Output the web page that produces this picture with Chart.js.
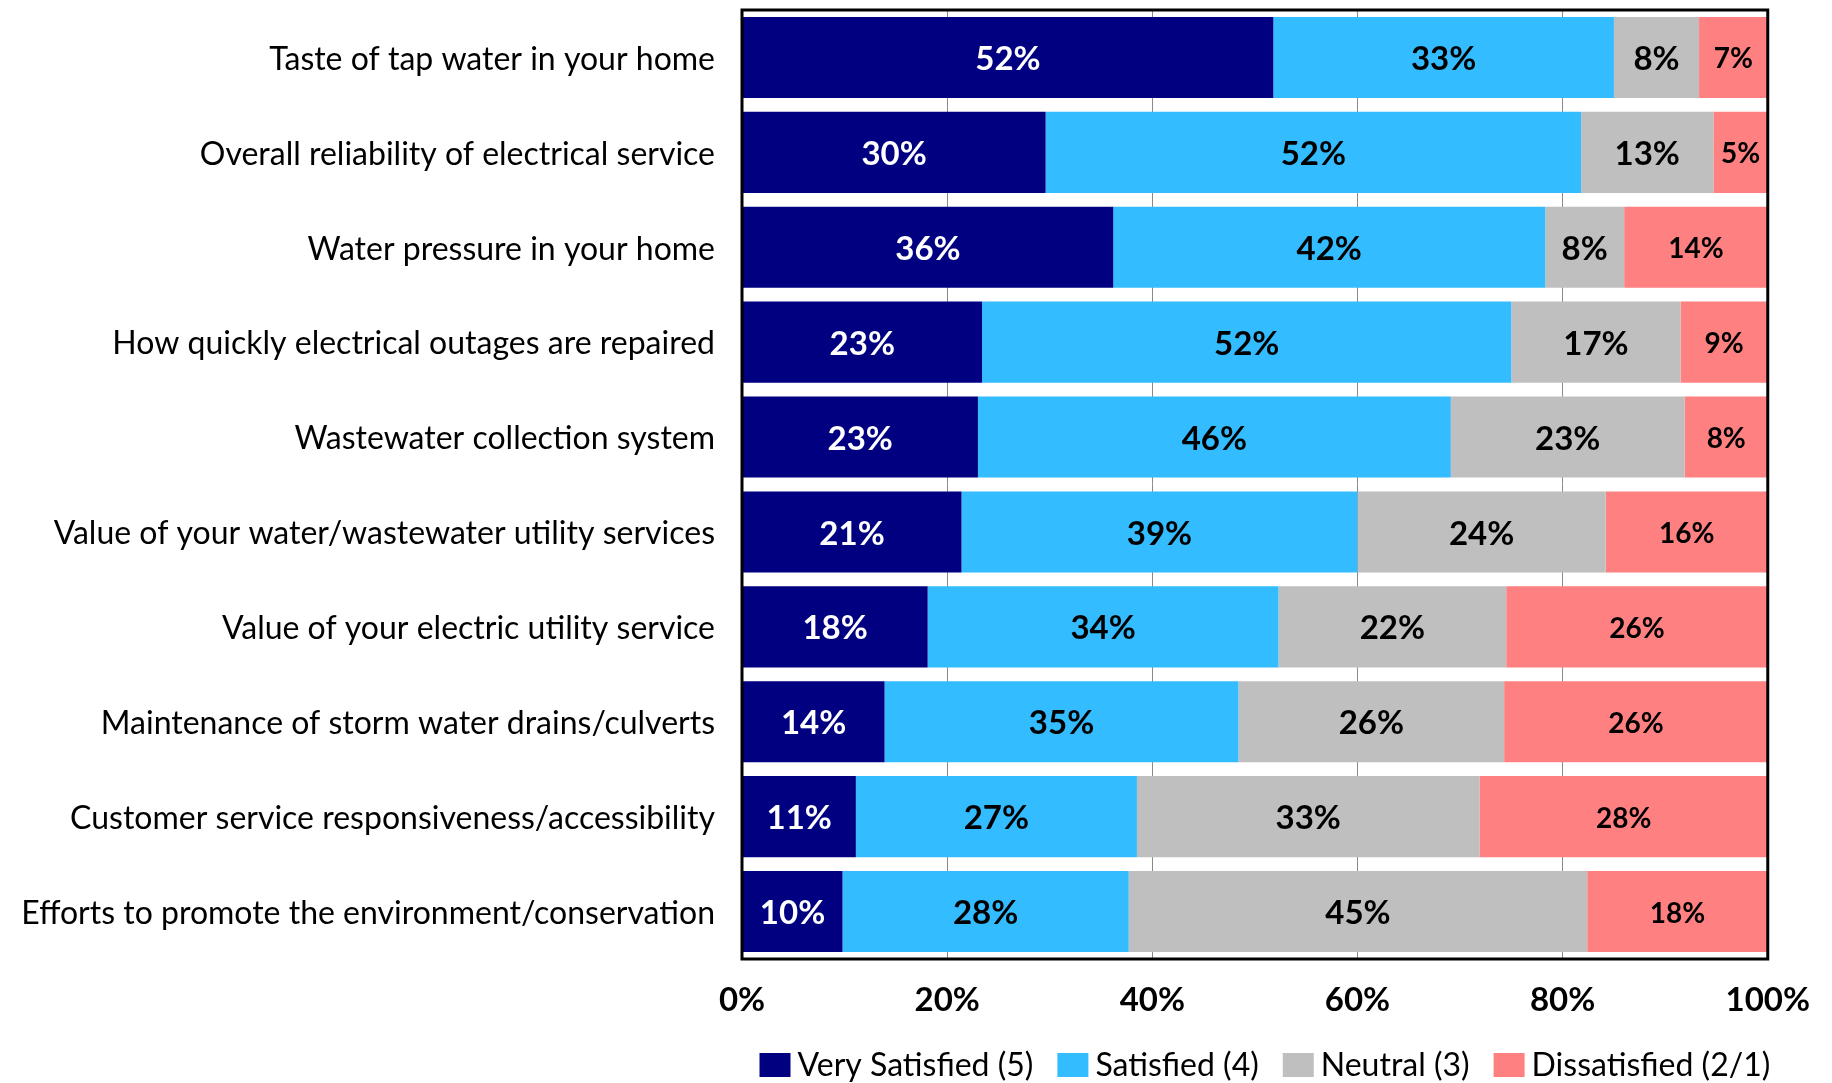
<!DOCTYPE html>
<html>
<head>
<meta charset="utf-8">
<script src="https://cdn.jsdelivr.net/npm/chart.js@4.4.0/dist/chart.umd.min.js"></script>
<style>
  html, body { margin: 0; padding: 0; background: #fff; }
  canvas { display: block; }
</style>
</head>
<body>
<canvas id="myChart" width="1832" height="1083"></canvas>
<script>
const categories = [
  "Taste of tap water in your home",
  "Overall reliability of electrical service",
  "Water pressure in your home",
  "How quickly electrical outages are repaired",
  "Wastewater collection system",
  "Value of your water/wastewater utility services",
  "Value of your electric utility service",
  "Maintenance of storm water drains/culverts",
  "Customer service responsiveness/accessibility",
  "Efforts to promote the environment/conservation",
];

const verySatisfied = [51.8, 29.6, 36.2, 23.4, 23.0, 21.4, 18.1, 13.9, 11.1, 9.8];
const satisfied = [33.2, 52.2, 42.1, 51.6, 46.1, 38.6, 34.2, 34.5, 27.4, 27.9];
const neutral = [8.3, 12.9, 7.7, 16.5, 22.8, 24.2, 22.2, 25.9, 33.4, 44.7];
const dissatisfied = [6.7, 5.3, 14.0, 8.5, 8.1, 15.8, 25.5, 25.7, 28.1, 17.6];

const seriesNames = ["Very Satisfied (5)", "Satisfied (4)", "Neutral (3)", "Dissatisfied (2/1)"];
const seriesColors = ["#000080", "#33BCFF", "#BFBFBF", "#FF8080"];
const xTicks = [0, 20, 40, 60, 80, 100];

const FONT = "Lato, 'Open Sans', sans-serif";

// value labels inside each bar segment
const barLabels = {
  id: "barLabels",
  afterDatasetsDraw(chart) {
    const ctx = chart.ctx;
    ctx.save();
    ctx.textAlign = "center";
    ctx.textBaseline = "middle";
    chart.data.datasets.forEach((ds, i) => {
      const meta = chart.getDatasetMeta(i);
      const small = i === 3;
      ctx.font = "bold " + (small ? 28 : 33) + "px " + FONT;
      ctx.fillStyle = i === 0 ? "#ffffff" : "#000000";
      meta.data.forEach((bar, j) => {
        const cx = (bar.x + bar.base) / 2;
        ctx.fillText(Math.round(ds.data[j]) + "%", cx, bar.y + 2);
      });
    });
    ctx.restore();
  },
};

// black frame round the plot area
const plotFrame = {
  id: "plotFrame",
  afterDatasetsDraw(chart) {
    const a = chart.chartArea;
    const ctx = chart.ctx;
    ctx.save();
    ctx.strokeStyle = "#000";
    ctx.lineWidth = 3;
    ctx.strokeRect(a.left, a.top, a.right - a.left, a.bottom - a.top);
    ctx.restore();
  },
};

// legend row under the axis
const bottomLegend = {
  id: "bottomLegend",
  afterDraw(chart) {
    const ctx = chart.ctx;
    const boxW = 31, boxH = 24, textGap = 7, itemGap = 24;
    ctx.save();
    ctx.font = "32px " + FONT;
    ctx.textBaseline = "middle";
    ctx.textAlign = "left";
    const widths = seriesNames.map((n) => boxW + textGap + ctx.measureText(n).width);
    const total = widths.reduce((s, w) => s + w, 0) + itemGap * (widths.length - 1);
    const a = chart.chartArea;
    const centerX = (a.left + a.right) / 2 + 10;
    const y = 1065;
    let x = centerX - total / 2;
    seriesNames.forEach((n, i) => {
      ctx.fillStyle = seriesColors[i];
      ctx.fillRect(x, y - boxH / 2, boxW, boxH);
      ctx.fillStyle = "#000";
      ctx.fillText(n, x + boxW + textGap, y + 1);
      x += widths[i] + itemGap;
    });
    ctx.restore();
  },
};

const ctx = document.getElementById("myChart");

new Chart(ctx, {
  type: "bar",
  data: {
    labels: categories,
    datasets: [verySatisfied, satisfied, neutral, dissatisfied].map((d, i) => ({
      label: seriesNames[i],
      data: d,
      backgroundColor: seriesColors[i],
      borderWidth: 0,
      barPercentage: 0.855,
      categoryPercentage: 1.0,
    })),
  },
  options: {
    indexAxis: "y",
    responsive: false,
    animation: false,
    layout: {
      padding: { top: 10, right: 64, left: 0, bottom: 0 },
    },
    plugins: {
      legend: { display: false },
      tooltip: { enabled: false },
    },
    scales: {
      x: {
        stacked: true,
        min: 0,
        max: 100,
        afterBuildTicks: (scale) => {
          scale.ticks = xTicks.map((v) => ({ value: v }));
        },
        afterFit: (scale) => {
          scale.height = 124;
        },
        ticks: {
          callback: (v) => v + "%",
          color: "#000",
          padding: 22,
          maxRotation: 0,
          font: { family: FONT, size: 33, weight: "bold" },
        },
        grid: {
          color: "#8a8a8a",
          lineWidth: 1,
          drawTicks: false,
        },
        border: { display: false },
      },
      y: {
        stacked: true,
        afterFit: (scale) => {
          scale.width = 742;
          scale.paddingTop = 0;
          scale.paddingBottom = 0;
        },
        ticks: {
          color: "#000",
          padding: 27,
          labelOffset: 2,
          font: { family: FONT, size: 32 },
        },
        grid: { display: false, drawTicks: false },
        border: { display: false },
      },
    },
  },
  plugins: [barLabels, plotFrame, bottomLegend],
});
</script>
</body>
</html>
